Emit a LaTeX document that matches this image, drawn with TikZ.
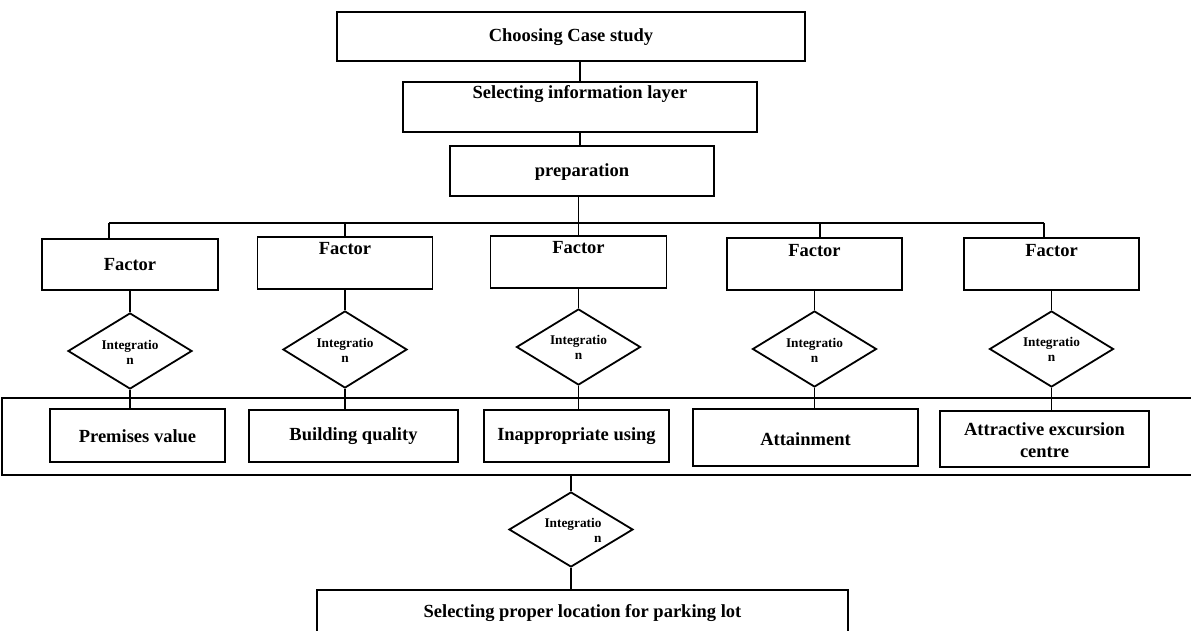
\documentclass[tikz,border=0pt]{standalone}
\usepackage{fontspec}
\setmainfont{Liberation Serif}
\usetikzlibrary{shapes.geometric}
\begin{document}
\begin{tikzpicture}[x=1pt,y=-1pt,line width=1.8pt,
  box/.style={draw,rectangle,inner sep=0pt},
  dia/.style={draw,diamond,inner sep=0pt,minimum width=124pt},
  txt/.style={inner sep=0pt,font=\fontsize{18.5}{22}\selectfont\bfseries,align=center},
  dtxt/.style={inner sep=0pt,font=\fontsize{13.3}{15}\selectfont\bfseries,align=center}]
\useasboundingbox (0,0) rectangle (1191,631);
% top chain
\node[box,minimum width=468pt,minimum height=49pt] (b1) at (571,36.5) {};
\node[txt] (b1t) at (571,37) {Choosing Case study};
\node[box,minimum width=354pt,minimum height=50pt] (b2) at (580,107) {};
\node[txt] (b2t) at (580,94) {Selecting information layer};
\node[box,minimum width=264pt,minimum height=50pt] (b3) at (582,171) {};
\node[txt] (b3t) at (582,172) {preparation};
% factors
\node[box,minimum width=176pt,minimum height=51pt] (f1) at (130,264.5) {};
\node[txt] (f1t) at (130,265) {Factor};
\node[box,minimum width=175pt,minimum height=52pt] (f2) at (345,263) {};
\node[txt] (f2t) at (345,249) {Factor};
\node[box,minimum width=176pt,minimum height=52pt] (f3) at (578.5,262) {};
\node[txt] (f3t) at (578.5,248) {Factor};
\node[box,minimum width=175pt,minimum height=52pt] (f4) at (814.5,264) {};
\node[txt] (f4t) at (814.5,251) {Factor};
\node[box,minimum width=175pt,minimum height=52pt] (f5) at (1051.5,264) {};
\node[txt] (f5t) at (1051.5,251) {Factor};
% diamonds
\node[dia,minimum height=76pt] (d1) at (130,351) {};
\node[dtxt] (d1t) at (130,352) {Integratio\\n};
\node[dia,minimum height=77pt] (d2) at (345,349.5) {};
\node[dtxt] (d2t) at (345,350) {Integratio\\n};
\node[dia,minimum height=76pt] (d3) at (578.5,347) {};
\node[dtxt] (d3t) at (578.5,347) {Integratio\\n};
\node[dia,minimum height=76pt] (d4) at (814.5,349) {};
\node[dtxt] (d4t) at (814.5,350) {Integratio\\n};
\node[dia,minimum height=76pt] (d5) at (1051.5,349) {};
\node[dtxt] (d5t) at (1051.5,349) {Integratio\\n};
% band
\node[box,minimum width=1200pt,minimum height=77pt,anchor=north west] (band) at (1,397) {};
\node[box,minimum width=175pt,minimum height=53pt] (i1) at (137.5,435.5) {};
\node[txt] (i1t) at (137.5,436) {Premises value};
\node[box,minimum width=209pt,minimum height=52pt] (i2) at (353.5,436) {};
\node[txt] (i2t) at (353.5,436) {Building quality};
\node[box,minimum width=185pt,minimum height=52pt] (i3) at (576.5,436) {};
\node[txt] (i3t) at (576.5,436) {Inappropriate using};
\node[box,minimum width=225pt,minimum height=57pt] (i4) at (805.5,437.5) {};
\node[txt] (i4t) at (805.5,439) {Attainment};
\node[box,minimum width=209pt,minimum height=56pt] (i5) at (1044.5,439) {};
\node[txt] (i5t) at (1044.5,440) {Attractive excursion\\centre};
% final
\node[dia,minimum height=75pt] (d6) at (571,529.5) {};
\node[dtxt,align=right] (d6t) at (573,530) {Integratio\\n};
\node[box,minimum width=531pt,minimum height=60pt] (fin) at (582.5,620) {};
\node[txt] (fint) at (582.5,613) {Selecting proper location for parking lot};
% bus coordinates
\coordinate (busL) at (109,223);
\coordinate (busR) at (1044,223);
\coordinate (t2) at (345,223);
\coordinate (t4) at (820,223);
% connectors
\draw (b2.north |- b1.south) -- (b2.north);
\draw (b2.north |- b2.south) -- (b2.north |- b3.north);
\draw (f3.north |- b3.south) -- (f3.north);
\draw (busL) -- (busR);
\draw (busL) -- (busL |- f1.north);
\draw (t2) -- (f2.north);
\draw (t4) -- (t4 |- f4.north);
\draw (busR) -- (busR |- f5.north);
\draw (f1.south) -- (d1.north);
\draw (f2.south) -- (d2.north);
\draw (f3.south) -- (d3.north);
\draw (f4.south) -- (d4.north);
\draw (f5.south) -- (d5.north);
\draw (d1.south) -- (d1.south |- i1.north);
\draw (d2.south) -- (d2.south |- i2.north);
\draw (d3.south) -- (d3.south |- i3.north);
\draw (d4.south) -- (d4.south |- i4.north);
\draw (d5.south) -- (d5.south |- i5.north);
\draw (d6.north |- band.south) -- (d6.north);
\draw (d6.south) -- (d6.south |- fin.north);
\end{tikzpicture}
\end{document}
